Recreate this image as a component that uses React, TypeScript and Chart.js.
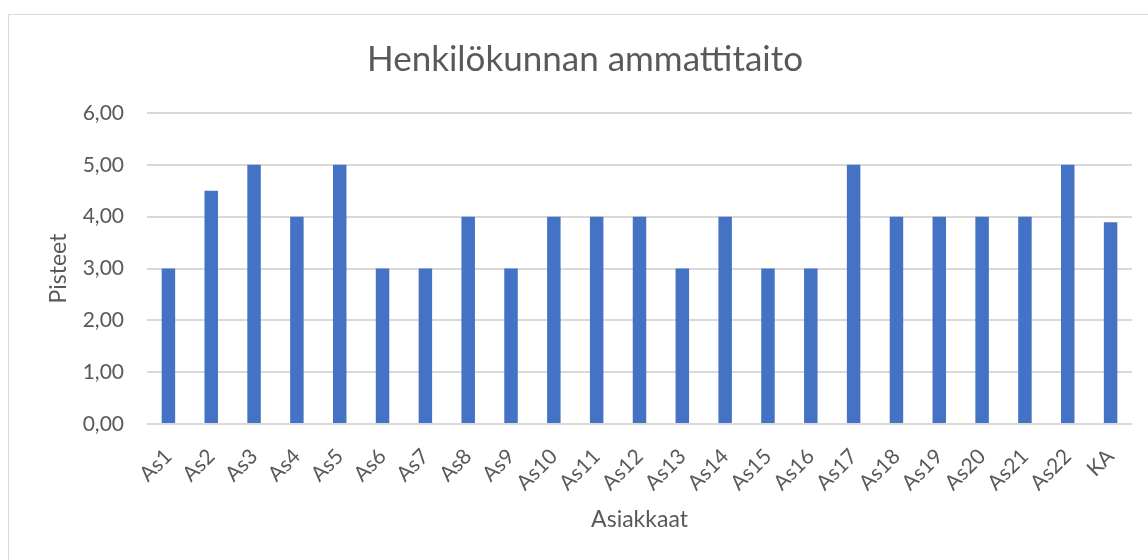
import React, { useEffect, useRef } from "react";
import { Chart, registerables } from "chart.js";

Chart.register(...registerables);

const categories = ["As1","As2","As3","As4","As5","As6","As7","As8","As9","As10","As11","As12","As13","As14","As15","As16","As17","As18","As19","As20","As21","As22","KA"];
const values = [3, 4.5, 5, 4, 5, 3, 3, 4, 3, 4, 4, 4, 3, 4, 3, 3, 5, 4, 4, 4, 4, 5, 3.89];
const yTicks = [0, 1, 2, 3, 4, 5, 6];
const chartTitle = "Henkilökunnan ammattitaito";
const yTitle = "Pisteet";
const xTitle = "Asiakkaat";

const FONT = "Lato, 'Open Sans', sans-serif";
const TEXT = "#595959";

export default function App() {
  const ref = useRef<HTMLCanvasElement | null>(null);
  useEffect(() => {
    if (!ref.current) return;
    const chart = new Chart(ref.current, {
      type: "bar",
      data: {
        labels: categories,
        datasets: [
          {
            data: values,
            backgroundColor: "#4472C4",
            borderWidth: 0,
            barPercentage: 0.315,
            categoryPercentage: 1,
            yAxisID: "y",
          },
        ],
      },
      options: {
        animation: false,
        responsive: false,
        layout: { padding: { left: 0, right: 0, top: 0, bottom: 0 } },
        plugins: {
          legend: { display: false },
          tooltip: { enabled: false },
          title: {
            display: true,
            text: chartTitle,
            color: TEXT,
            font: { family: FONT, size: 35, weight: "normal" },
            padding: { top: 24, bottom: 32 },
          },
        },
        scales: {
          x: {
            grid: { display: false },
            border: { display: false },
            ticks: {
              color: TEXT,
              font: { family: FONT, size: 21 },
              minRotation: 45,
              maxRotation: 45,
              padding: 12,
              autoSkip: false,
            },
            title: {
              display: true,
              text: xTitle,
              color: TEXT,
              font: { family: FONT, size: 23 },
              padding: { top: 0, bottom: 27 },
            },
            afterFit: (s: any) => {
              s.height = 136;
            },
          },
          y: {
            min: 0,
            max: 6,
            afterBuildTicks: (s: any) => {
              s.ticks = yTicks.map((v) => ({ value: v }));
            },
            grid: { color: "#d9d9d9", lineWidth: 2, drawTicks: false },
            border: { display: false },
            ticks: {
              color: TEXT,
              font: { family: FONT, size: 21 },
              padding: 23,
              callback: (v: any) => Number(v).toFixed(2).replace(".", ","),
            },
            title: {
              display: true,
              text: yTitle,
              color: TEXT,
              font: { family: FONT, size: 23 },
              padding: { top: 36, bottom: 0 },
            },
            afterFit: (s: any) => {
              s.width = 138;
            },
          },
          yRight: {
            type: "linear",
            position: "right",
            display: true,
            grid: { display: false, drawTicks: false },
            border: { display: false },
            ticks: { display: false },
            afterFit: (s: any) => {
              s.width = 29;
            },
          },
        },
      } as any,
    });
    return () => chart.destroy();
  }, []);

  return (
    <div style={{ position: "fixed", inset: 0, overflow: "hidden", background: "#fff" }}>
      <div
        style={{
          position: "absolute",
          left: 8,
          top: 14,
          width: 1152,
          height: 560,
          border: "1px solid #d9d9d9",
          background: "#fff",
        }}
      >
        <canvas ref={ref} width={1152} height={545} style={{ display: "block", width: 1152, height: 545 }} />
      </div>
    </div>
  );
}
